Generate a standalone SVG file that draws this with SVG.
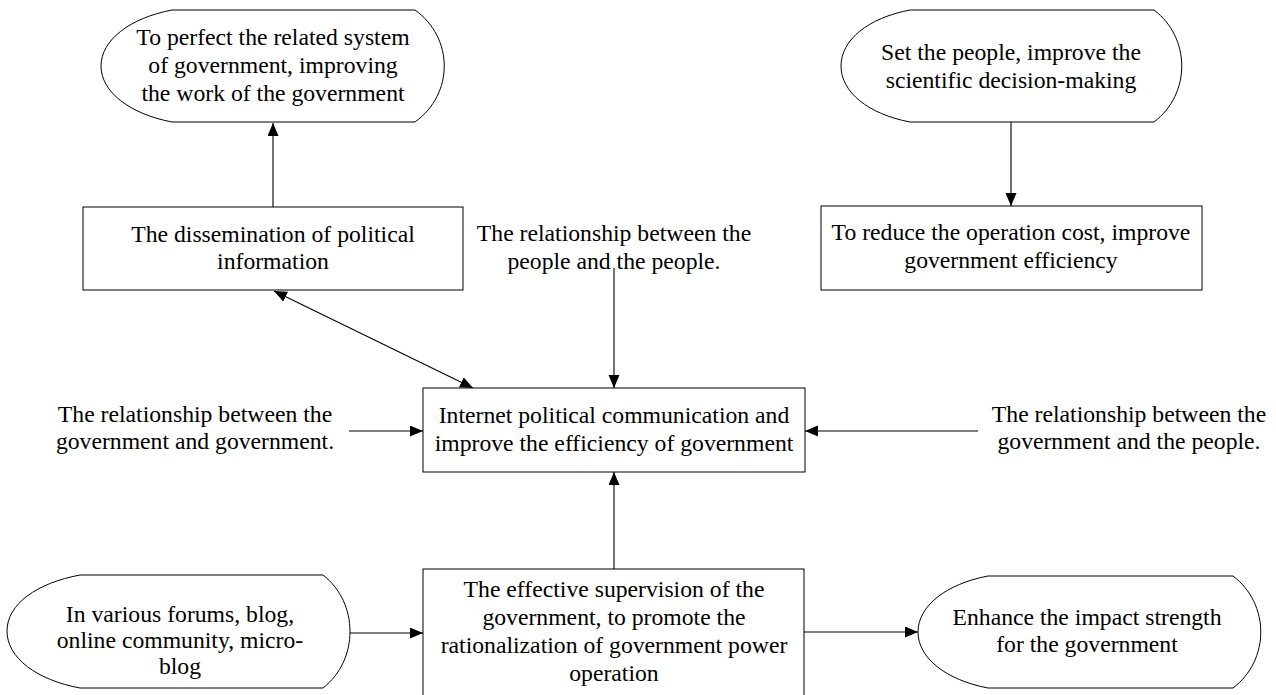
<svg xmlns="http://www.w3.org/2000/svg" width="1276" height="695" viewBox="0 0 1276 695">
<style>
.shape{fill:#fff;stroke:#000;stroke-width:1}
.t{font-family:"Liberation Serif","Times New Roman",serif;font-size:23.7px;fill:#000;text-anchor:middle}
.c{stroke:#000;stroke-width:1.1;fill:none}
</style>
<defs>
<marker id="ah" markerUnits="userSpaceOnUse" markerWidth="14" markerHeight="12" refX="13" refY="5.5" orient="auto-start-reverse" viewBox="0 0 14 12">
<path d="M0,0 L13,5.5 L0,11 z" fill="#000"/>
</marker>
</defs>
<rect width="1276" height="695" fill="#fff"/>
<g id="connectors">
<path class="c" d="M273,207 L273,123" marker-end="url(#ah)"/>
<path class="c" d="M1011,122 L1011,206" marker-end="url(#ah)"/>
<path class="c" d="M274,291 L473,388" marker-start="url(#ah)" marker-end="url(#ah)"/>
<path class="c" d="M614,268 L614,388" marker-end="url(#ah)"/>
<path class="c" d="M349,431 L423,431" marker-end="url(#ah)"/>
<path class="c" d="M978,431 L805,431" marker-end="url(#ah)"/>
<path class="c" d="M614,569 L614,472" marker-end="url(#ah)"/>
<path class="c" d="M350,633 L423,633" marker-end="url(#ah)"/>
<path class="c" d="M804,632 L918,632" marker-end="url(#ah)"/>
</g>
<g id="n-perfect">
<path class="shape" d="M172,10 L415,10 C454,38 454,94 415,122 L172,122 C130,114 101,92 101,66 C101,40 130,18 172,10 Z"/>
<text class="t" x="273" y="45">To perfect the related system</text>
<text class="t" x="273" y="73">of government, improving</text>
<text class="t" x="273" y="101">the work of the government</text>
</g>
<g id="n-set">
<path class="shape" d="M910,10 L1154,10 C1191,38 1191,94 1154,122 L910,122 C868,114 841,92 841,66 C841,40 868,18 910,10 Z"/>
<text class="t" x="1011" y="60">Set the people, improve the</text>
<text class="t" x="1011" y="88">scientific decision-making</text>
</g>
<g id="n-dissemination">
<rect class="shape" x="83" y="207" width="380" height="83"/>
<text class="t" x="273" y="242">The dissemination of political</text>
<text class="t" x="273" y="269">information</text>
</g>
<g id="n-reduce">
<rect class="shape" x="821" y="206" width="381" height="84"/>
<text class="t" x="1011" y="240">To reduce the operation cost, improve</text>
<text class="t" x="1011" y="268">government efficiency</text>
</g>
<g id="n-people">
<text class="t" x="614" y="241">The relationship between the</text>
<text class="t" x="614" y="269">people and the people.</text>
</g>
<g id="n-govgov">
<text class="t" x="195" y="422">The relationship between the</text>
<text class="t" x="195" y="449">government and government.</text>
</g>
<g id="n-govpeople">
<text class="t" x="1129" y="422">The relationship between the</text>
<text class="t" x="1129" y="449">government and the people.</text>
</g>
<g id="n-internet">
<rect class="shape" x="423" y="388" width="382" height="84"/>
<text class="t" x="614" y="423">Internet political communication and</text>
<text class="t" x="614" y="451">improve the efficiency of government</text>
</g>
<g id="n-forums">
<path class="shape" d="M80,575 L323,575 C359,603 359,660 323,688 L80,688 C37,680 7,658 7,631 C7,604 37,583 80,575 Z"/>
<text class="t" x="180" y="622">In various forums, blog,</text>
<text class="t" x="180" y="648">online community, micro-</text>
<text class="t" x="180" y="674">blog</text>
</g>
<g id="n-supervision">
<rect class="shape" x="423" y="569" width="381" height="140"/>
<text class="t" x="614" y="597">The effective supervision of the</text>
<text class="t" x="614" y="625">government, to promote the</text>
<text class="t" x="614" y="653">rationalization of government power</text>
<text class="t" x="614" y="681">operation</text>
</g>
<g id="n-enhance">
<path class="shape" d="M988,576 L1233,576 C1270,604 1270,660 1233,688 L988,688 C946,680 918,658 918,632 C918,606 946,584 988,576 Z"/>
<text class="t" x="1087" y="625">Enhance the impact strength</text>
<text class="t" x="1087" y="652">for the government</text>
</g>
</svg>
